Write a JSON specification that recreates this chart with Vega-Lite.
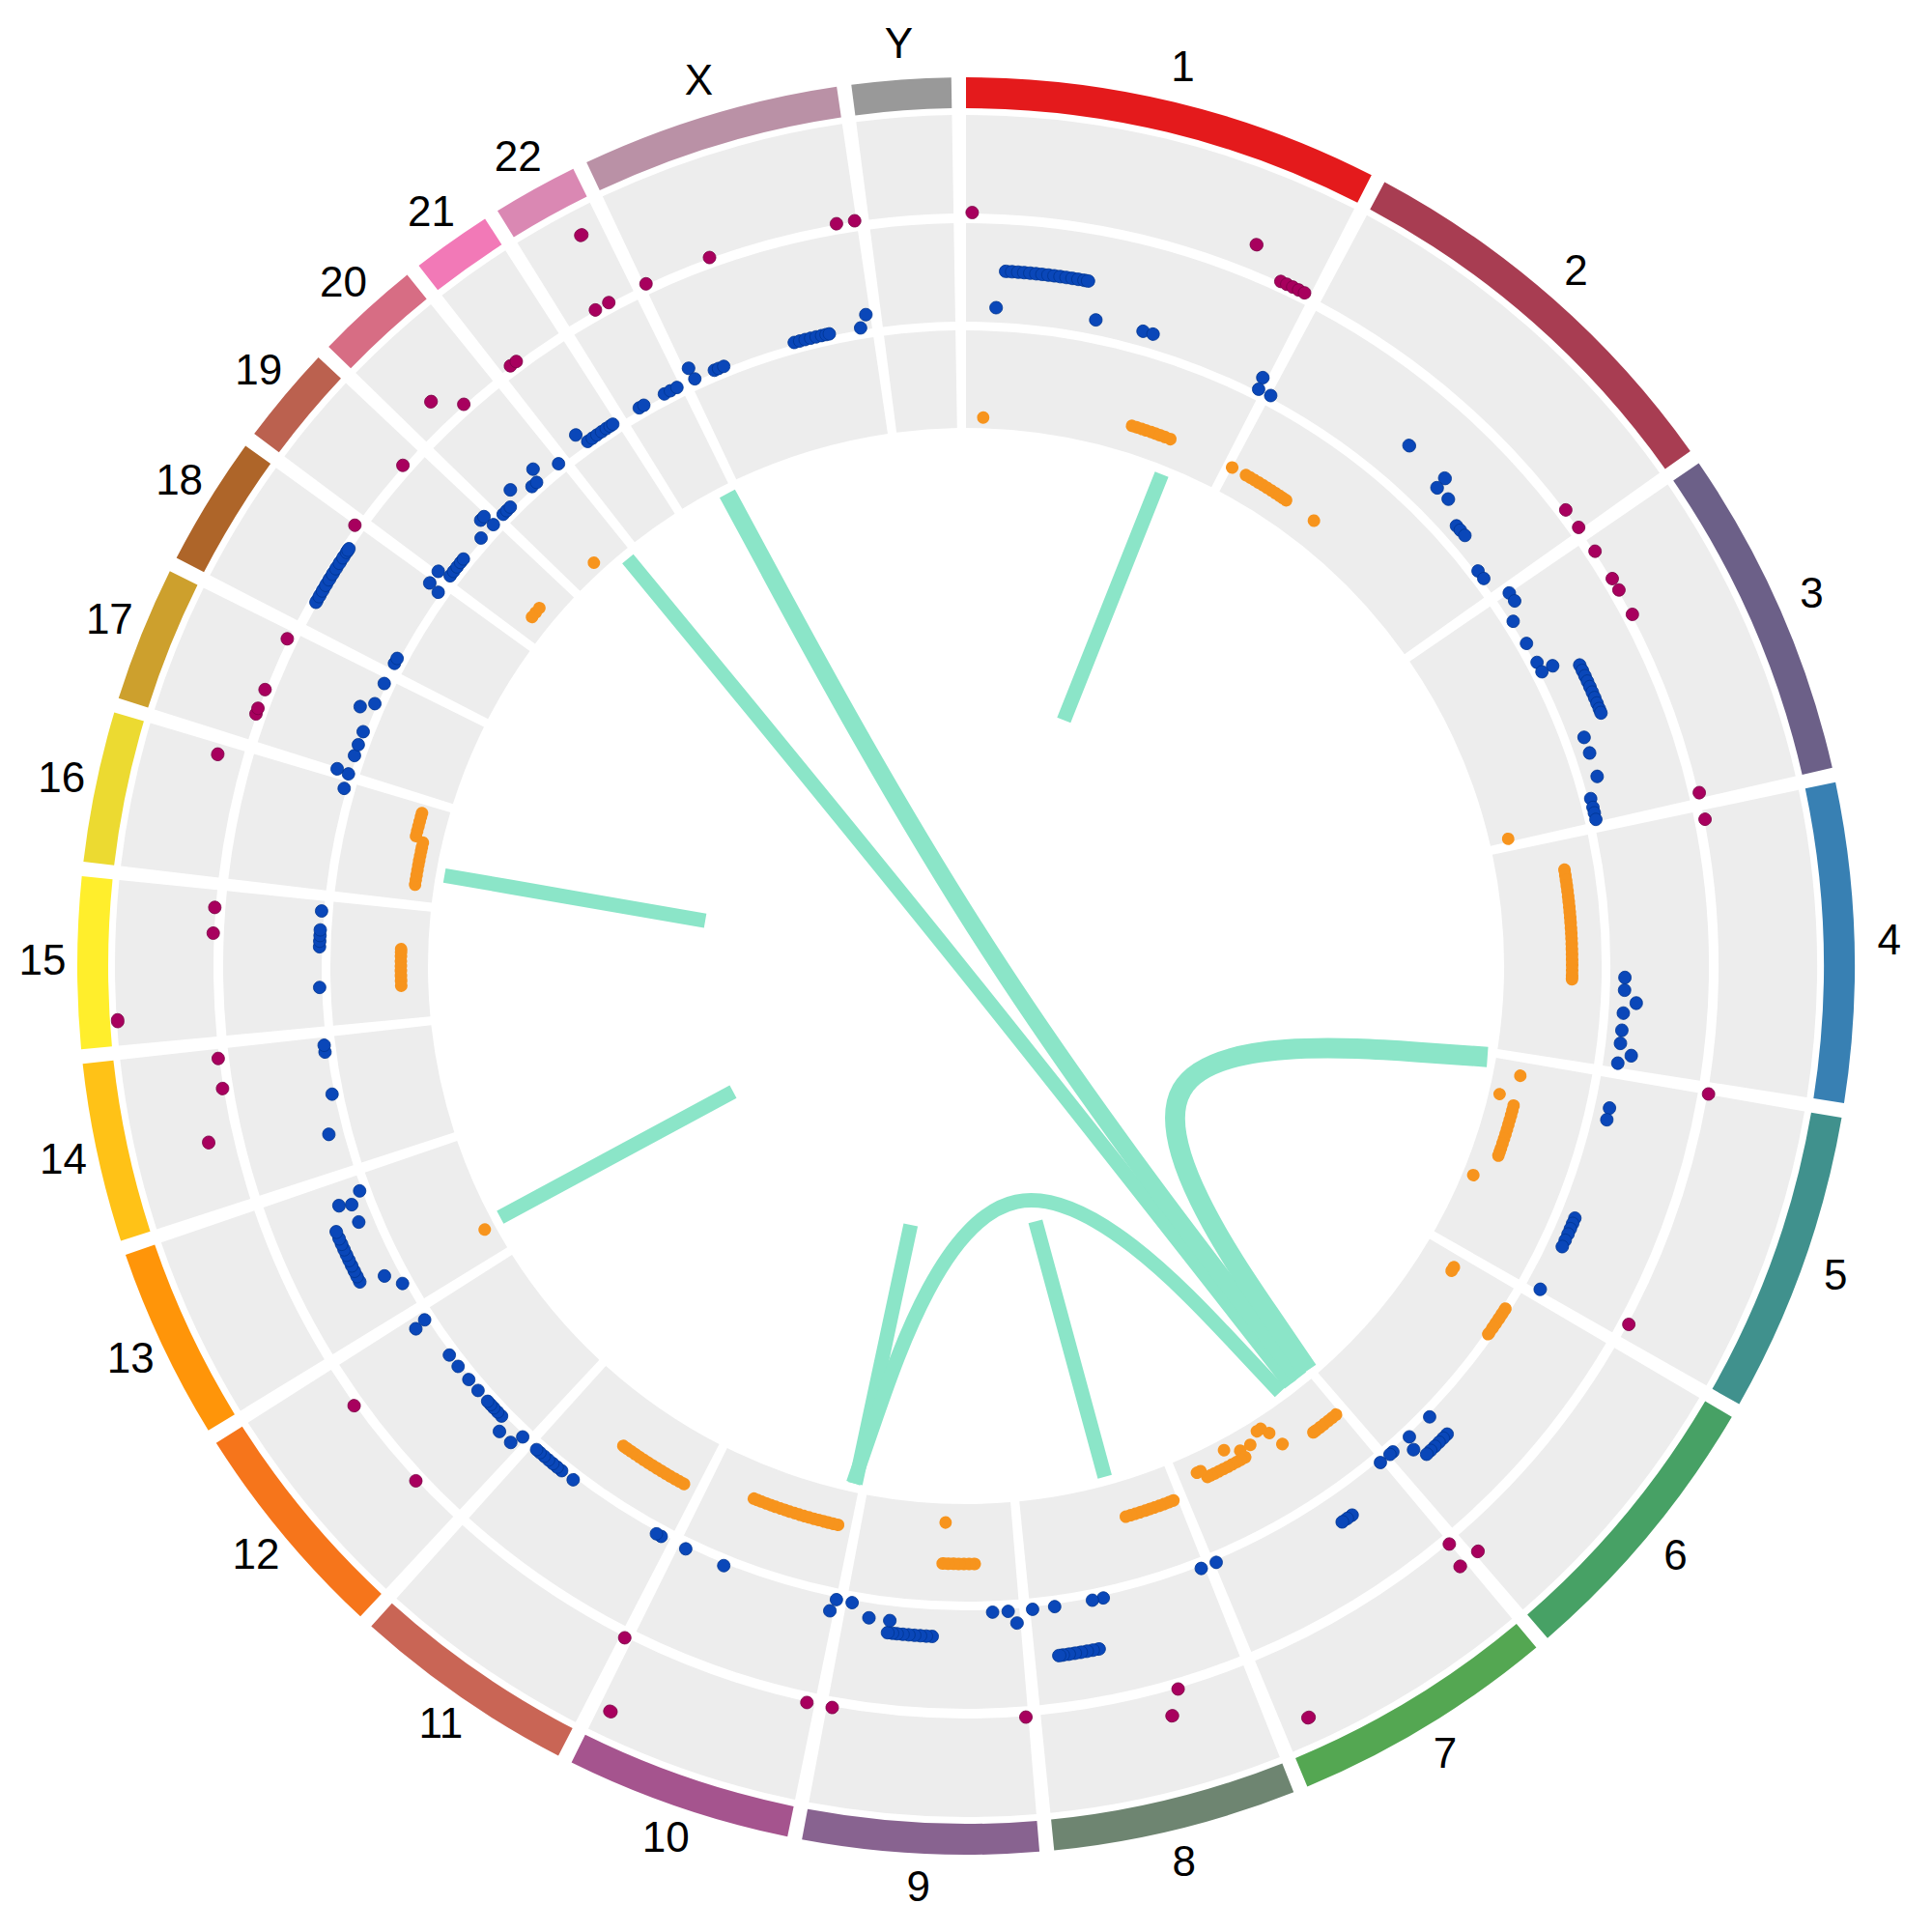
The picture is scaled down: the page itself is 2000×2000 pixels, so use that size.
{
"$schema":"https://vega.github.io/schema/vega-lite/v6.json",
"width":2000,"height":2000,"autosize":"none","padding":0,"background":"white",
"config":{"view":{"stroke":null}},
"datasets":{
"chroms":[
{"chr":"1","start":0,"end":27.150,"mid":13.575},
{"chr":"2","start":28.100,"end":54.591,"mid":41.346},
{"chr":"3","start":55.541,"end":77.111,"mid":66.326},
{"chr":"4","start":78.061,"end":98.883,"mid":88.472},
{"chr":"5","start":99.833,"end":119.540,"mid":109.687},
{"chr":"6","start":120.490,"end":139.129,"mid":129.810},
{"chr":"7","start":140.079,"end":157.414,"mid":148.747},
{"chr":"8","start":158.364,"end":174.307,"mid":166.336},
{"chr":"9","start":175.257,"end":190.639,"mid":182.948},
{"chr":"10","start":191.589,"end":206.352,"mid":198.971},
{"chr":"11","start":207.302,"end":222.008,"mid":214.655},
{"chr":"12","start":222.958,"end":237.538,"mid":230.248},
{"chr":"13","start":238.488,"end":251.033,"mid":244.761},
{"chr":"14","start":251.983,"end":263.676,"mid":257.830},
{"chr":"15","start":264.626,"end":275.794,"mid":270.210},
{"chr":"16","start":276.744,"end":286.586,"mid":281.665},
{"chr":"17","start":287.536,"end":296.380,"mid":291.958},
{"chr":"18","start":297.330,"end":305.835,"mid":301.583},
{"chr":"19","start":306.785,"end":313.226,"mid":310.006},
{"chr":"20","start":314.176,"end":321.041,"mid":317.609},
{"chr":"21","start":321.991,"end":327.234,"mid":324.613},
{"chr":"22","start":328.184,"end":333.772,"mid":330.978},
{"chr":"X","start":334.722,"end":351.635,"mid":343.179},
{"chr":"Y","start":352.585,"end":359.052,"mid":355.819}
],
"t1":[
{"pos":0.47,"value":1},{"pos":21.94,"value":2},{"pos":24.7,"value":1},{"pos":25.2,"value":1},{"pos":25.7,"value":1},{"pos":26.2,"value":1},{"pos":26.7,"value":1},
{"pos":52.75,"value":1},{"pos":54.4,"value":1},{"pos":56.6,"value":1},{"pos":59.06,"value":1},{"pos":60.06,"value":1},{"pos":62.18,"value":1},
{"pos":76.7,"value":1},{"pos":78.77,"value":1},{"pos":99.78,"value":1},{"pos":118.4,"value":1},{"pos":138.83,"value":2},{"pos":140.1,"value":1},{"pos":140.54,"value":2},
{"pos":155.5,"value":4},{"pos":163.65,"value":1},{"pos":164.62,"value":2},{"pos":175.44,"value":1},{"pos":190.23,"value":1},{"pos":192.19,"value":1},
{"pos":205.5,"value":4},{"pos":206.93,"value":1},{"pos":226.9,"value":1},{"pos":234.3,"value":1},{"pos":256.88,"value":2},{"pos":260.64,"value":1},{"pos":262.95,"value":1},
{"pos":266.31,"value":5},{"pos":272.5,"value":1},{"pos":274.46,"value":1},{"pos":285.8,"value":2},{"pos":289.55,"value":1},{"pos":290.0,"value":1},{"pos":291.52,"value":1},
{"pos":295.74,"value":1},{"pos":305.8,"value":1},{"pos":311.64,"value":1},{"pos":316.53,"value":2},{"pos":318.2,"value":1},{"pos":322.8,"value":1},{"pos":323.35,"value":1},
{"pos":330.54,"value":1},{"pos":331.7,"value":1},{"pos":332.24,"value":4},{"pos":334.87,"value":1},{"pos":340.1,"value":1},{"pos":350.1,"value":1},{"pos":351.5,"value":1}
],
"t2":[
{"pos":2.62,"value":2},{"pos":3.3,"value":5},{"pos":3.8,"value":5},{"pos":4.3,"value":5},{"pos":4.8,"value":5},{"pos":5.3,"value":5},{"pos":5.8,"value":5},{"pos":6.3,"value":5},{"pos":6.8,"value":5},{"pos":7.3,"value":5},{"pos":7.8,"value":5},{"pos":8.3,"value":5},{"pos":8.8,"value":5},{"pos":9.3,"value":5},{"pos":9.8,"value":5},{"pos":10.1,"value":5},
{"pos":11.36,"value":2},{"pos":15.59,"value":2},{"pos":16.49,"value":2},{"pos":26.77,"value":2},{"pos":26.9,"value":1},{"pos":28.11,"value":1},
{"pos":40.42,"value":4},{"pos":44.48,"value":4},{"pos":44.57,"value":3},{"pos":45.93,"value":3},{"pos":48.1,"value":2},{"pos":48.6,"value":2},{"pos":49.2,"value":2},
{"pos":52.35,"value":1},{"pos":53.19,"value":1},{"pos":55.53,"value":2},{"pos":56.36,"value":2},{"pos":57.79,"value":1},{"pos":60.08,"value":1},{"pos":62.0,"value":1},{"pos":62.9,"value":2},{"pos":62.94,"value":1},
{"pos":63.9,"value":4},{"pos":64.4,"value":4},{"pos":64.9,"value":4},{"pos":65.4,"value":4},{"pos":65.9,"value":4},{"pos":66.4,"value":4},{"pos":66.9,"value":4},{"pos":67.4,"value":4},{"pos":67.9,"value":4},{"pos":68.25,"value":4},
{"pos":69.7,"value":2},{"pos":71.14,"value":2},{"pos":73.28,"value":2},{"pos":75.0,"value":1},{"pos":75.8,"value":1},{"pos":76.3,"value":1},{"pos":76.9,"value":1},
{"pos":91.0,"value":2},{"pos":92.1,"value":2},{"pos":93.17,"value":3},{"pos":94.1,"value":2},{"pos":95.6,"value":2},{"pos":96.74,"value":2},{"pos":97.68,"value":3},{"pos":98.48,"value":2},
{"pos":102.45,"value":2},{"pos":103.49,"value":2},{"pos":112.5,"value":2},{"pos":113.0,"value":2},{"pos":113.5,"value":2},{"pos":114.0,"value":2},{"pos":114.6,"value":2},{"pos":115.2,"value":2},{"pos":119.38,"value":2},
{"pos":134.2,"value":1},{"pos":134.23,"value":3},{"pos":134.7,"value":3},{"pos":135.2,"value":3},{"pos":135.7,"value":3},{"pos":136.2,"value":3},{"pos":136.65,"value":3},{"pos":136.72,"value":1},{"pos":137.22,"value":2},{"pos":138.7,"value":1},{"pos":139.04,"value":1},{"pos":140.15,"value":1},
{"pos":144.9,"value":3},{"pos":145.4,"value":3},{"pos":145.9,"value":3},{"pos":157.24,"value":1},{"pos":158.67,"value":1},
{"pos":167.74,"value":1},{"pos":168.73,"value":1},{"pos":169.0,"value":5},{"pos":169.5,"value":5},{"pos":170.0,"value":5},{"pos":170.5,"value":5},{"pos":171.0,"value":5},{"pos":171.5,"value":5},{"pos":172.0,"value":5},{"pos":172.3,"value":5},{"pos":172.12,"value":1},{"pos":174.09,"value":1},
{"pos":175.56,"value":2},{"pos":176.26,"value":1},{"pos":177.64,"value":1},{"pos":182.9,"value":3},{"pos":183.4,"value":3},{"pos":183.9,"value":3},{"pos":184.4,"value":3},{"pos":184.9,"value":3},{"pos":185.4,"value":3},{"pos":185.9,"value":3},{"pos":186.3,"value":3},{"pos":186.7,"value":3},{"pos":186.64,"value":2},{"pos":188.47,"value":2},{"pos":190.14,"value":1},
{"pos":191.56,"value":1},{"pos":191.92,"value":2},{"pos":202.0,"value":1},{"pos":205.68,"value":1},{"pos":208.12,"value":1},{"pos":208.6,"value":1},
{"pos":217.4,"value":1},{"pos":218.7,"value":1},{"pos":219.2,"value":1},{"pos":219.7,"value":1},{"pos":220.2,"value":1},{"pos":220.7,"value":1},{"pos":221.2,"value":1},{"pos":221.6,"value":1},
{"pos":223.27,"value":1},{"pos":223.7,"value":2},{"pos":225.07,"value":2},{"pos":225.9,"value":1},{"pos":226.4,"value":1},{"pos":226.9,"value":1},{"pos":227.3,"value":1},{"pos":227.7,"value":1},{"pos":228.98,"value":1},{"pos":230.25,"value":1},{"pos":231.75,"value":1},{"pos":233.02,"value":1},{"pos":236.6,"value":2},{"pos":236.83,"value":1},
{"pos":240.6,"value":1},{"pos":241.94,"value":2},{"pos":242.5,"value":4},{"pos":243.0,"value":4},{"pos":243.5,"value":4},{"pos":244.0,"value":4},{"pos":244.5,"value":4},{"pos":245.0,"value":4},{"pos":245.5,"value":4},{"pos":246.0,"value":4},{"pos":246.5,"value":4},{"pos":247.1,"value":4},{"pos":247.14,"value":2},{"pos":248.77,"value":2},{"pos":249.08,"value":3},{"pos":249.65,"value":1},
{"pos":255.2,"value":2},{"pos":258.57,"value":1},{"pos":262.35,"value":1},{"pos":262.96,"value":1},
{"pos":268.1,"value":1},{"pos":271.7,"value":1},{"pos":272.2,"value":1},{"pos":272.7,"value":1},{"pos":273.2,"value":1},{"pos":274.88,"value":1},
{"pos":285.94,"value":1},{"pos":287.28,"value":1},{"pos":287.41,"value":2},{"pos":288.99,"value":1},{"pos":290.01,"value":1},{"pos":291.24,"value":1},
{"pos":293.18,"value":2},{"pos":293.93,"value":1},{"pos":295.9,"value":1},
{"pos":297.9,"value":1},{"pos":298.4,"value":1},{"pos":299.3,"value":9},{"pos":299.8,"value":9},{"pos":300.3,"value":9},{"pos":300.8,"value":9},{"pos":301.3,"value":9},{"pos":301.8,"value":9},{"pos":302.3,"value":9},{"pos":302.8,"value":9},{"pos":303.3,"value":9},{"pos":303.8,"value":9},{"pos":304.0,"value":9},{"pos":305.3,"value":1},{"pos":305.54,"value":2},
{"pos":306.79,"value":2},{"pos":307.1,"value":1},{"pos":307.6,"value":1},{"pos":308.1,"value":1},{"pos":308.6,"value":1},{"pos":309.0,"value":1},{"pos":311.43,"value":1},{"pos":312.58,"value":2},{"pos":312.99,"value":2},{"pos":313.04,"value":1},
{"pos":314.3,"value":1},{"pos":314.75,"value":1},{"pos":315.2,"value":1},{"pos":316.26,"value":2},{"pos":317.85,"value":1},{"pos":318.4,"value":1},{"pos":318.93,"value":2},{"pos":320.95,"value":1},
{"pos":323.69,"value":2},{"pos":324.2,"value":1},{"pos":324.7,"value":1},{"pos":325.2,"value":1},{"pos":325.7,"value":1},{"pos":326.2,"value":1},{"pos":326.6,"value":1},{"pos":326.9,"value":1},
{"pos":329.65,"value":1},{"pos":330.12,"value":1},{"pos":332.2,"value":1},{"pos":332.8,"value":1},{"pos":333.45,"value":1},
{"pos":335.1,"value":2},{"pos":335.21,"value":1},{"pos":337.1,"value":1},{"pos":337.5,"value":1},{"pos":338.0,"value":1},{"pos":344.6,"value":1},{"pos":345.1,"value":1},{"pos":345.6,"value":1},{"pos":346.1,"value":1},{"pos":346.6,"value":1},{"pos":347.1,"value":1},{"pos":347.5,"value":1},{"pos":347.8,"value":1},{"pos":350.62,"value":1},{"pos":351.26,"value":2}
],
"t3":[
{"pos":1.8,"value":1},{"pos":17.1,"value":3},{"pos":17.6,"value":3},{"pos":18.1,"value":3},{"pos":18.6,"value":3},{"pos":19.1,"value":3},{"pos":19.6,"value":3},{"pos":20.1,"value":3},{"pos":20.6,"value":3},{"pos":21.2,"value":3},
{"pos":28.1,"value":3},{"pos":29.7,"value":3},{"pos":30.2,"value":3},{"pos":30.7,"value":3},{"pos":31.2,"value":3},{"pos":31.7,"value":3},{"pos":32.2,"value":3},{"pos":32.7,"value":3},{"pos":33.2,"value":3},{"pos":33.7,"value":3},{"pos":34.1,"value":3},{"pos":34.5,"value":3},{"pos":38.0,"value":3},
{"pos":76.8,"value":2},
{"pos":80.9,"value":8},{"pos":81.4,"value":8},{"pos":81.9,"value":8},{"pos":82.4,"value":8},{"pos":82.9,"value":8},{"pos":83.4,"value":8},{"pos":83.9,"value":8},{"pos":84.4,"value":8},{"pos":84.9,"value":8},{"pos":85.4,"value":8},{"pos":85.9,"value":8},{"pos":86.4,"value":8},{"pos":86.9,"value":8},{"pos":87.4,"value":8},{"pos":87.9,"value":8},{"pos":88.4,"value":8},{"pos":88.9,"value":8},{"pos":89.4,"value":8},{"pos":89.9,"value":8},{"pos":90.4,"value":8},{"pos":90.9,"value":8},{"pos":91.2,"value":8},
{"pos":101.2,"value":3},{"pos":103.5,"value":1},{"pos":104.3,"value":3},{"pos":104.8,"value":3},{"pos":105.3,"value":3},{"pos":105.8,"value":3},{"pos":106.3,"value":3},{"pos":106.8,"value":3},{"pos":107.3,"value":3},{"pos":107.8,"value":3},{"pos":108.3,"value":3},{"pos":108.8,"value":3},{"pos":109.2,"value":3},{"pos":109.6,"value":3},{"pos":112.4,"value":1},
{"pos":121.7,"value":4},{"pos":122.1,"value":4},{"pos":122.5,"value":12},{"pos":123.0,"value":12},{"pos":123.5,"value":12},{"pos":124.0,"value":12},{"pos":124.5,"value":12},{"pos":125.1,"value":12},
{"pos":140.5,"value":5},{"pos":141.0,"value":5},{"pos":141.5,"value":5},{"pos":142.0,"value":5},{"pos":142.5,"value":5},{"pos":143.0,"value":5},{"pos":143.3,"value":5},
{"pos":146.5,"value":4},{"pos":147.0,"value":2},{"pos":147.5,"value":1},{"pos":148.0,"value":1},{"pos":149.3,"value":2},{"pos":150.5,"value":2},{"pos":150.4,"value":3},{"pos":150.9,"value":3},{"pos":151.4,"value":3},{"pos":151.95,"value":1},{"pos":151.9,"value":3},{"pos":152.4,"value":3},{"pos":152.9,"value":3},{"pos":153.4,"value":3},{"pos":153.9,"value":3},{"pos":154.3,"value":3},{"pos":154.7,"value":3},{"pos":155.1,"value":2},{"pos":155.5,"value":2},
{"pos":158.8,"value":4},{"pos":159.3,"value":4},{"pos":159.8,"value":4},{"pos":160.3,"value":4},{"pos":160.8,"value":4},{"pos":161.3,"value":4},{"pos":161.8,"value":4},{"pos":162.3,"value":4},{"pos":162.8,"value":4},{"pos":163.3,"value":4},{"pos":163.8,"value":4},
{"pos":179.2,"value":7},{"pos":179.7,"value":7},{"pos":180.2,"value":7},{"pos":180.7,"value":7},{"pos":181.2,"value":7},{"pos":181.7,"value":7},{"pos":182.2,"value":7},{"pos":182.1,"value":2},
{"pos":192.9,"value":4},{"pos":193.4,"value":4},{"pos":193.9,"value":4},{"pos":194.4,"value":4},{"pos":194.9,"value":4},{"pos":195.4,"value":4},{"pos":195.9,"value":4},{"pos":196.4,"value":4},{"pos":196.9,"value":4},{"pos":197.4,"value":4},{"pos":197.9,"value":4},{"pos":198.4,"value":4},{"pos":198.9,"value":4},{"pos":199.4,"value":4},{"pos":199.9,"value":4},{"pos":200.4,"value":4},{"pos":200.9,"value":4},{"pos":201.3,"value":4},{"pos":201.7,"value":4},
{"pos":208.6,"value":6},{"pos":209.1,"value":6},{"pos":209.6,"value":6},{"pos":210.1,"value":6},{"pos":210.6,"value":6},{"pos":211.1,"value":6},{"pos":211.6,"value":6},{"pos":212.1,"value":6},{"pos":212.6,"value":6},{"pos":213.1,"value":6},{"pos":213.6,"value":6},{"pos":214.1,"value":6},{"pos":214.6,"value":6},{"pos":215.1,"value":6},{"pos":215.5,"value":6},
{"pos":241.3,"value":1},
{"pos":268.0,"value":3},{"pos":268.5,"value":3},{"pos":269.0,"value":3},{"pos":269.5,"value":3},{"pos":270.0,"value":3},{"pos":270.5,"value":3},{"pos":271.0,"value":3},{"pos":271.4,"value":3},{"pos":271.7,"value":3},
{"pos":283.3,"value":3},{"pos":283.8,"value":3},{"pos":284.3,"value":3},{"pos":284.8,"value":3},{"pos":285.3,"value":3},{"pos":285.7,"value":3},
{"pos":278.4,"value":2},{"pos":278.9,"value":2},{"pos":279.4,"value":2},{"pos":279.9,"value":2},{"pos":280.4,"value":2},{"pos":280.9,"value":2},{"pos":281.4,"value":2},{"pos":281.9,"value":2},{"pos":282.3,"value":2},{"pos":282.8,"value":2},
{"pos":308.8,"value":2},{"pos":309.4,"value":2},{"pos":310.0,"value":2},{"pos":317.3,"value":1}
],
"links":[
{"link":"L1","i":0,"x":0.2026,"y":0.5091},{"link":"L1","i":1,"x":0,"y":0},{"link":"L1","i":2,"x":0.2026,"y":0.5091},
{"link":"L4","i":0,"x":-0.5399,"y":0.0937},{"link":"L4","i":1,"x":0,"y":0},{"link":"L4","i":2,"x":-0.5399,"y":0.0937},
{"link":"L5","i":0,"x":-0.4822,"y":-0.2602},{"link":"L5","i":1,"x":0,"y":0},{"link":"L5","i":2,"x":-0.4822,"y":-0.2602},
{"link":"L8","i":0,"x":-0.1145,"y":-0.5359},{"link":"L8","i":1,"x":0,"y":0},{"link":"L8","i":2,"x":-0.1145,"y":-0.5359},
{"link":"L9","i":0,"x":0.1437,"y":-0.5288},{"link":"L9","i":1,"x":0,"y":0},{"link":"L9","i":2,"x":0.1437,"y":-0.5288},
{"link":"L2","i":0,"x":-0.2471,"y":0.4891},{"link":"L2","i":1,"x":0,"y":0},{"link":"L2","i":2,"x":0.3449,"y":-0.4259},
{"link":"L3","i":0,"x":-0.3501,"y":0.4216},{"link":"L3","i":1,"x":0,"y":0},{"link":"L3","i":2,"x":0.3359,"y":-0.4330},
{"link":"L6","i":0,"x":0.5398,"y":-0.0942},{"link":"L6","i":1,"x":0,"y":0},{"link":"L6","i":2,"x":0.3537,"y":-0.4186},
{"link":"L7","i":0,"x":-0.1167,"y":-0.5354},{"link":"L7","i":1,"x":0,"y":0},{"link":"L7","i":2,"x":0.3252,"y":-0.4411}
]
},
"layer":[
{"data":{"name":"chroms"},
 "mark":{"type":"arc","radius":920,"radius2":888},
 "encoding":{
  "theta":{"field":"start","type":"quantitative","scale":{"domain":[0,360]},"stack":null},
  "theta2":{"field":"end"},
  "color":{"field":"chr","type":"nominal","legend":null,
   "scale":{"domain":["1","2","3","4","5","6","7","8","9","10","11","12","13","14","15","16","17","18","19","20","21","22","X","Y"],
   "range":["#e41a1c","#a83d52","#6c6088","#3880b3","#40918d","#47a165","#54a752","#6e8571","#886390","#a5548e","#c96555","#f6751b","#ff9509","#ffc217","#ffee2c","#ecda31","#cda02d","#ae6529","#bb614f","#d76d84","#f279b7","#da88b3","#ba91a6","#999999"]}}
 }},
{"data":{"name":"chroms"},
 "mark":{"type":"arc","radius":881,"radius2":779,"fill":"#EDEDED"},
 "encoding":{"theta":{"field":"start","type":"quantitative","scale":{"domain":[0,360]},"stack":null},"theta2":{"field":"end"}}},
{"data":{"name":"chroms"},
 "mark":{"type":"arc","radius":769,"radius2":667,"fill":"#EDEDED"},
 "encoding":{"theta":{"field":"start","type":"quantitative","scale":{"domain":[0,360]},"stack":null},"theta2":{"field":"end"}}},
{"data":{"name":"chroms"},
 "mark":{"type":"arc","radius":658,"radius2":557,"fill":"#EDEDED"},
 "encoding":{"theta":{"field":"start","type":"quantitative","scale":{"domain":[0,360]},"stack":null},"theta2":{"field":"end"}}},
{"data":{"name":"chroms"},
 "mark":{"type":"text","radius":956,"fontSize":44,"font":"Liberation Sans","align":"center","baseline":"middle","color":"#000000"},
 "encoding":{"theta":{"field":"mid","type":"quantitative","scale":{"domain":[0,360]},"stack":null},"text":{"field":"chr"}}},
{"data":{"name":"t1"},
 "mark":{"type":"arc","thetaOffset":-0.0084,"theta2Offset":0.0084,"radiusOffset":6.5,"radius2Offset":-6.5,"cornerRadius":6.5,"fill":"#A8005E","stroke":"#7a0044","strokeWidth":0.8},
 "encoding":{
  "theta":{"field":"pos","type":"quantitative","scale":{"domain":[0,360]},"stack":null},
  "theta2":{"field":"pos"},
  "radius":{"field":"value","type":"quantitative","scale":{"type":"linear","domain":[0,5],"range":[755,880],"zero":false,"nice":false}},
  "radius2":{"field":"value"}}},
{"data":{"name":"t2"},
 "mark":{"type":"arc","thetaOffset":-0.0097,"theta2Offset":0.0097,"radiusOffset":6.5,"radius2Offset":-6.5,"cornerRadius":6.5,"fill":"#0A47B9","stroke":"#003590","strokeWidth":0.8},
 "encoding":{
  "theta":{"field":"pos","type":"quantitative","scale":{"domain":[0,360]},"stack":null},
  "theta2":{"field":"pos"},
  "radius":{"field":"value","type":"quantitative","scale":{"type":"linear","domain":[0,9],"range":[656.8,771.1],"zero":false,"nice":false}},
  "radius2":{"field":"value"}}},
{"data":{"name":"t3"},
 "mark":{"type":"arc","thetaOffset":-0.0112,"theta2Offset":0.0112,"radiusOffset":6.5,"radius2Offset":-6.5,"cornerRadius":6.5,"fill":"#F7941D"},
 "encoding":{
  "theta":{"field":"pos","type":"quantitative","scale":{"domain":[0,360]},"stack":null},
  "theta2":{"field":"pos"},
  "radius":{"field":"value","type":"quantitative","scale":{"type":"linear","domain":[0,12],"range":[559.5,661.5],"zero":false,"nice":false}},
  "radius2":{"field":"value"}}},
{"data":{"name":"links"},
 "transform":[{"filter":"datum.link !== 'L2' && datum.link !== 'L6'"}],
 "mark":{"type":"line","interpolate":"bundle","tension":0.75,"strokeWidth":15,"strokeCap":"butt","color":"#8BE5C8"},
 "encoding":{
  "x":{"field":"x","type":"quantitative","scale":{"domain":[-1,1],"nice":false,"zero":false},"axis":null},
  "y":{"field":"y","type":"quantitative","scale":{"domain":[-1,1],"nice":false,"zero":false},"axis":null},
  "detail":{"field":"link"},"order":{"field":"i"}}},
{"data":{"name":"links"},
 "transform":[{"filter":"datum.link === 'L2'"}],
 "mark":{"type":"line","interpolate":"bundle","tension":0.75,"strokeWidth":18,"strokeCap":"butt","color":"#8BE5C8"},
 "encoding":{
  "x":{"field":"x","type":"quantitative","scale":{"domain":[-1,1],"nice":false,"zero":false},"axis":null},
  "y":{"field":"y","type":"quantitative","scale":{"domain":[-1,1],"nice":false,"zero":false},"axis":null},
  "detail":{"field":"link"},"order":{"field":"i"}}},
{"data":{"name":"links"},
 "transform":[{"filter":"datum.link === 'L6'"}],
 "mark":{"type":"line","interpolate":"bundle","tension":0.75,"strokeWidth":21,"strokeCap":"butt","color":"#8BE5C8"},
 "encoding":{
  "x":{"field":"x","type":"quantitative","scale":{"domain":[-1,1],"nice":false,"zero":false},"axis":null},
  "y":{"field":"y","type":"quantitative","scale":{"domain":[-1,1],"nice":false,"zero":false},"axis":null},
  "detail":{"field":"link"},"order":{"field":"i"}}}
],
"resolve":{"scale":{"radius":"independent"}}
}
